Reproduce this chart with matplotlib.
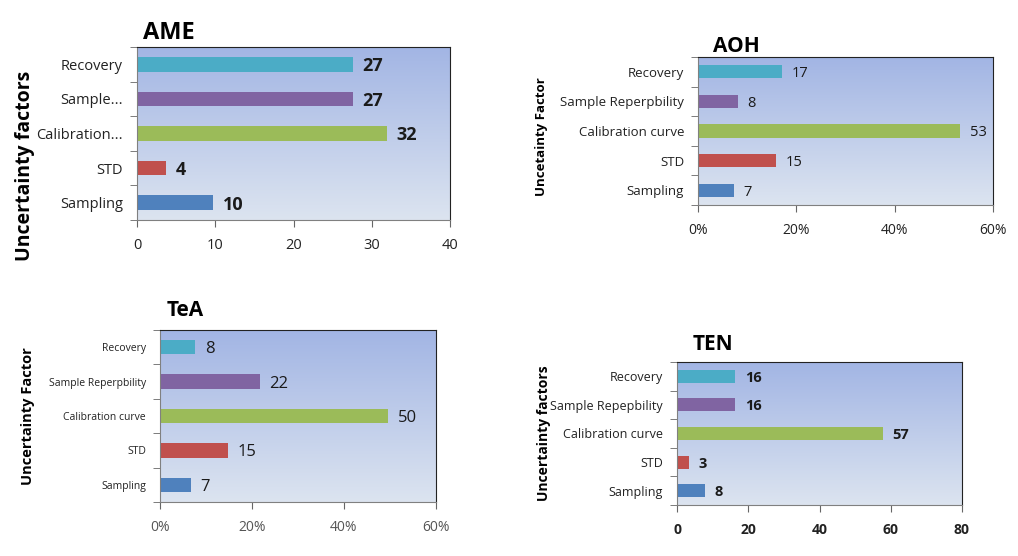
import numpy as np
import matplotlib
matplotlib.use('Agg')
import matplotlib.pyplot as plt
from matplotlib.colors import LinearSegmentedColormap
from matplotlib.ticker import FuncFormatter

plt.rcParams['font.family'] = ['Open Sans', 'DejaVu Sans']

# bottom to top
factors_ame = ['Sampling', 'STD', 'Calibration...', 'Sample...', 'Recovery']
factors_aoh = ['Sampling', 'STD', 'Calibration curve', 'Sample Reperpbility', 'Recovery']
factors_tea = ['Sampling', 'STD', 'Calibration curve', 'Sample Reperpbility', 'Recovery']
factors_ten = ['Sampling', 'STD', 'Calibration curve', 'Sample Repepbility', 'Recovery']

ame_values = [9.7, 3.7, 31.9, 27.6, 27.6]
ame_labels = ['10', '4', '32', '27', '27']
aoh_values = [7.3, 15.9, 53.3, 8.1, 17.1]
aoh_labels = ['7', '15', '53', '8', '17']
tea_values = [6.7, 14.8, 49.6, 21.7, 7.6]
tea_labels = ['7', '15', '50', '22', '8']
ten_values = [7.9, 3.4, 57.8, 16.3, 16.3]
ten_labels = ['8', '3', '57', '16', '16']

bar_colors = ['#4F81BD', '#C0504D', '#9BBB59', '#8064A2', '#4BACC6']

W, H = 1018, 556
fig = plt.figure(figsize=(W / 100, H / 100), dpi=100)
grad = LinearSegmentedColormap.from_list('bg', ['#DCE4F0', '#A2B5E4'])


def px_axes(left, right, top, bottom):
    return fig.add_axes([left / W, 1 - bottom / H, (right - left) / W, (bottom - top) / H])


def draw_panel(ax, names, values, labels, xmax, xticks, pct, bar_h,
               tick_fs, val_fs, val_bold, xt_fs, xt_bold, xt_color):
    ax.imshow(np.linspace(0, 1, 256).reshape(-1, 1)[::-1], cmap=grad, aspect='auto',
              extent=[0, 1, 0, 1], transform=ax.transAxes, zorder=0)
    y = np.arange(len(names))
    ax.barh(y, values, height=bar_h, color=bar_colors, zorder=2)
    for yi, v, lab in zip(y, values, labels):
        ax.annotate(lab, (v, yi), xytext=(7, 0), textcoords='offset points',
                    va='center_baseline', ha='left', fontsize=val_fs,
                    fontweight='bold' if val_bold else 'normal', color='#1a1a1a')
    ax.set_xlim(0, xmax)
    ax.set_ylim(-0.5, len(names) - 0.5)
    ax.set_xticks(xticks)
    if pct:
        ax.xaxis.set_major_formatter(FuncFormatter(lambda v, p: '%d%%' % v))
    ax.set_yticks(y)
    ax.set_yticklabels(names, fontsize=tick_fs, color='#222222')
    ax.set_yticks(np.arange(-0.5, len(names), 1), minor=True)
    ax.tick_params(axis='y', which='major', length=0, pad=10)
    ax.tick_params(axis='y', which='minor', length=5, color='#666666')
    ax.tick_params(axis='x', length=5, color='#666666', labelsize=xt_fs,
                   labelcolor=xt_color, pad=8)
    if xt_bold:
        for t in ax.get_xticklabels():
            t.set_fontweight('bold')
    for s in ['left', 'bottom']:
        ax.spines[s].set_color('#808080')
    for s in ['top', 'right']:
        ax.spines[s].set_color('#222222')


def fig_text(x, y, s, **kw):
    fig.text(x / W, 1 - y / H, s, **kw)


# AME
ax1 = px_axes(137, 450, 47, 220)
draw_panel(ax1, factors_ame, ame_values, ame_labels, 40, [0, 10, 20, 30, 40], False, 0.42,
           10.5, 13, True, 10.5, False, '#222222')
fig_text(143, 33, 'AME', fontsize=17, fontweight='bold', va='center', ha='left')
fig_text(25, 166, 'Uncertainty factors', fontsize=14, fontweight='bold', rotation=90,
         va='center', ha='center')

# AOH
ax2 = px_axes(698, 993, 57, 205)
draw_panel(ax2, factors_aoh, aoh_values, aoh_labels, 60, [0, 20, 40, 60], True, 0.45,
           9.5, 10.5, False, 10, False, '#222222')
fig_text(713, 46, 'AOH', fontsize=15, fontweight='bold', va='center', ha='left')
fig_text(542, 137, 'Uncetainty Factor', fontsize=9.5, fontweight='bold', rotation=90,
         va='center', ha='center')

# TeA
ax3 = px_axes(160, 436, 330, 502)
draw_panel(ax3, factors_tea, tea_values, tea_labels, 60, [0, 20, 40, 60], True, 0.42,
           7.5, 12, False, 10, False, '#555555')
fig_text(167, 311, 'TeA', fontsize=15, fontweight='bold', va='center', ha='left')
fig_text(28, 416, 'Uncertainty Factor', fontsize=10.5, fontweight='bold', rotation=90,
         va='center', ha='center')

# TEN
ax4 = px_axes(677, 962, 362, 505)
draw_panel(ax4, factors_ten, ten_values, ten_labels, 80, [0, 20, 40, 60, 80], False, 0.45,
           9, 10.5, True, 10, True, '#222222')
fig_text(693, 345, 'TEN', fontsize=15, fontweight='bold', va='center', ha='left')
fig_text(544, 433, 'Uncertainty factors', fontsize=10, fontweight='bold', rotation=90,
         va='center', ha='center')

fig.savefig('out.png', dpi=100)
